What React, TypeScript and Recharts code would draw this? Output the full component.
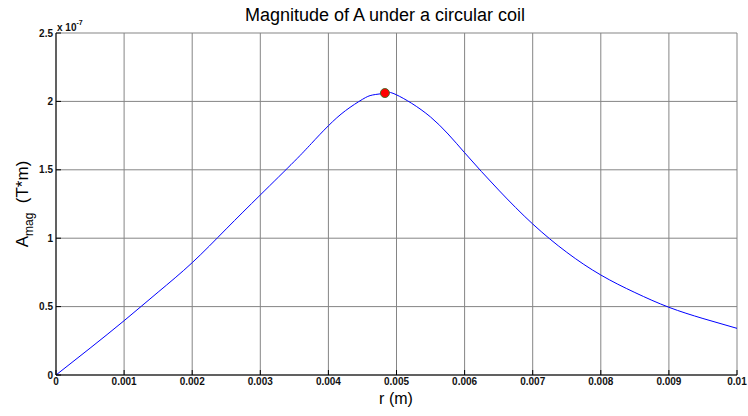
import React from "react";
import {
  CartesianGrid,
  Line,
  LineChart,
  ReferenceDot,
  XAxis,
  YAxis,
} from "recharts";

// r in metres, |A| in units of 1e-7 T*m
const rValues = [
  0, 0.0005, 0.001, 0.0015, 0.002, 0.0025, 0.003, 0.0035, 0.00375, 0.004,
  0.00425, 0.0045, 0.00465, 0.00483, 0.005, 0.0055, 0.006, 0.0065, 0.007,
  0.0075, 0.008, 0.0085, 0.009, 0.0095, 0.01,
];
const aMag = [
  0, 0.196, 0.397, 0.606, 0.821, 1.068, 1.316, 1.562, 1.692, 1.822, 1.932,
  2.015, 2.047, 2.061, 2.048, 1.886, 1.625, 1.352, 1.104, 0.897, 0.731, 0.603,
  0.495, 0.413, 0.341,
];

const xTicks = [
  0, 0.001, 0.002, 0.003, 0.004, 0.005, 0.006, 0.007, 0.008, 0.009, 0.01,
];
const yTicks = [0, 0.5, 1, 1.5, 2, 2.5];

const peakR = 0.00483;
const peakA = 2.061;

const data = rValues.map((r, i) => ({ r, a: aMag[i] }));

const FONT = "Arial, 'Liberation Sans', Helvetica, sans-serif";
const tickStyle = { fontSize: 10, fontWeight: 700, fill: "#111", fontFamily: FONT };

export default function App() {
  return (
    <div style={{ position: "absolute", left: 0, top: 0, background: "#fff" }}>
      <LineChart
        width={748}
        height={416}
        data={data}
        margin={{ top: 33, right: 11, bottom: 0, left: 0 }}
      >
        <CartesianGrid stroke="#858585" strokeWidth={1} />
        <XAxis
          dataKey="r"
          type="number"
          domain={[0, 0.01]}
          ticks={xTicks}
          tickFormatter={(v) => String(v)}
          height={41}
          tickSize={-5}
          tickMargin={8}
          stroke="#000"
          tick={tickStyle}
          interval={0}
        />
        <XAxis
          xAxisId="top"
          orientation="top"
          type="number"
          domain={[0, 0.01]}
          ticks={xTicks}
          tickFormatter={() => ""}
          height={0}
          tickSize={-5}
          stroke="#000"
        />
        <YAxis
          type="number"
          domain={[0, 2.5]}
          ticks={yTicks}
          tickFormatter={(v) => String(v)}
          width={56}
          tickSize={-5}
          tickMargin={8}
          stroke="#000"
          tick={tickStyle}
          interval={0}
        />
        <YAxis
          yAxisId="right"
          orientation="right"
          type="number"
          domain={[0, 2.5]}
          ticks={yTicks}
          tickFormatter={() => ""}
          width={0}
          tickSize={-5}
          stroke="#000"
        />
        <Line
          type="natural"
          dataKey="a"
          stroke="#0000ff"
          strokeWidth={1}
          dot={false}
          isAnimationActive={false}
        />
        <ReferenceDot
          x={peakR}
          y={peakA}
          r={4.5}
          fill="#ff0000"
          stroke="#4f6b2a"
          strokeWidth={1}
        />
        <text
          x={385}
          y={21}
          textAnchor="middle"
          fontFamily={FONT}
          fontSize={18}
          fill="#000"
        >
          Magnitude of A under a circular coil
        </text>
        <text
          x={396}
          y={404}
          textAnchor="middle"
          fontFamily={FONT}
          fontSize={16}
          fill="#000"
        >
          r (m)
        </text>
        <text
          transform="rotate(-90, 28, 204)"
          x={28}
          y={204}
          textAnchor="middle"
          fontFamily={FONT}
          fontSize={17}
          fill="#000"
          style={{ whiteSpace: "pre" }}
        >
          A
          <tspan fontSize={12} dy={5}>
            mag
          </tspan>
          <tspan dy={-5}>{"  (T*m)"}</tspan>
        </text>
        <text x={57} y={31} fontFamily={FONT} fontSize={10} fontWeight={700} fill="#111">
          x 10
          <tspan fontSize={7} dy={-6}>
            -7
          </tspan>
        </text>
      </LineChart>
    </div>
  );
}
